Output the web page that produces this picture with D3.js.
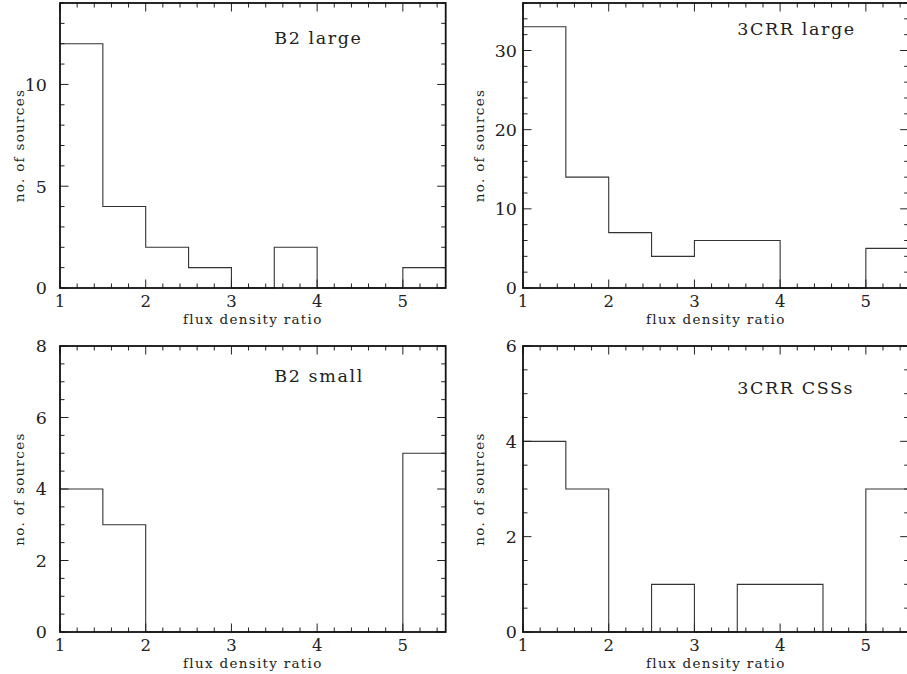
<!DOCTYPE html>
<html>
<head>
<meta charset="utf-8">
<script src="https://cdn.jsdelivr.net/npm/d3@7"></script>
<style>
  html, body { margin: 0; padding: 0; background: #fff; }
  svg { display: block; }
  text { font-family: "DejaVu Serif", serif; fill: #222; }
</style>
</head>
<body>
<svg id="chart" width="907" height="674"></svg>
<script>
// ---- data ----
const binEdges = [1, 1.5, 2, 2.5, 3, 3.5, 4, 4.5, 5, 5.5];
const xTicks = [1, 2, 3, 4, 5];

const b2LargeCounts   = [12, 4, 2, 1, 0, 2, 0, 0, 1];
const c3LargeCounts   = [33, 14, 7, 4, 6, 6, 0, 0, 5];
const b2SmallCounts   = [4, 3, 0, 0, 0, 0, 0, 0, 5];
const c3CssCounts     = [4, 3, 0, 1, 0, 1, 1, 0, 3];

const panelTitles = ["B2 large", "3CRR large", "B2 small", "3CRR CSSs"];
const yMaxes      = [14, 36, 8, 6];
const yMajorTicks = [[0, 5, 10], [0, 10, 20, 30], [0, 2, 4, 6, 8], [0, 2, 4, 6]];
const yMinorStep  = [1, 2, 0.5, 0.5];
const titlePos    = [[3.5, 12], [3.5, 32], [3.5, 7], [3.5, 5]];
const xLabel = "flux density ratio";
const yLabel = "no. of sources";

// ---- layout ----
const svg = d3.select("#chart");
const panels = [
  { counts: b2LargeCounts, x0: 60,  x1: 445.7, yTop: 3,   yBot: 288, labDx: -13, yTitleX: 24 },
  { counts: c3LargeCounts, x0: 523, x1: 908.7, yTop: 3,   yBot: 288, labDx: -6,  yTitleX: 484 },
  { counts: b2SmallCounts, x0: 60,  x1: 445.7, yTop: 346, yBot: 632, labDx: -13, yTitleX: 24 },
  { counts: c3CssCounts,   x0: 523, x1: 908.7, yTop: 346, yBot: 632, labDx: -6,  yTitleX: 484 }
];

const majorLen = 8.5, minorLen = 4.5;

panels.forEach((p, i) => {
  const x = d3.scaleLinear().domain([1, 5.5]).range([p.x0, p.x1]);
  const y = d3.scaleLinear().domain([0, yMaxes[i]]).range([p.yBot, p.yTop]);
  const g = svg.append("g");

  // histogram step line
  const pts = binEdges.slice(0, -1).map((e, k) => [e, p.counts[k]]);
  pts.push([binEdges[binEdges.length - 1], p.counts[p.counts.length - 1]]);
  const line = d3.line().x(d => x(d[0])).y(d => y(d[1])).curve(d3.curveStepAfter);
  g.append("path").attr("d", line(pts))
    .attr("fill", "none").attr("stroke", "#333").attr("stroke-width", 1.1);

  // ticks
  const xMinor = d3.range(1, 5.5001, 0.2).map(v => +v.toFixed(2));
  const yMinor = d3.range(0, yMaxes[i] + 1e-6, yMinorStep[i]).map(v => +v.toFixed(2));
  const tk = g.append("g").attr("stroke", "#222").attr("stroke-width", 1);
  xMinor.forEach(v => {
    const major = Math.abs(v - Math.round(v)) < 1e-6;
    const L = major ? majorLen : minorLen;
    tk.append("line").attr("x1", x(v)).attr("x2", x(v)).attr("y1", y(0)).attr("y2", y(0) - L);
    tk.append("line").attr("x1", x(v)).attr("x2", x(v)).attr("y1", y(yMaxes[i])).attr("y2", y(yMaxes[i]) + L);
  });
  yMinor.forEach(v => {
    const major = yMajorTicks[i].some(m => Math.abs(m - v) < 1e-6);
    const L = major ? majorLen : minorLen;
    tk.append("line").attr("x1", x(1)).attr("x2", x(1) + L).attr("y1", y(v)).attr("y2", y(v));
    tk.append("line").attr("x1", x(5.5)).attr("x2", x(5.5) - L).attr("y1", y(v)).attr("y2", y(v));
  });

  // frame
  g.append("rect")
    .attr("x", x(1)).attr("y", y(yMaxes[i]))
    .attr("width", x(5.5) - x(1)).attr("height", y(0) - y(yMaxes[i]))
    .attr("fill", "none").attr("stroke", "#111").attr("stroke-width", 1.8);

  // tick labels
  g.selectAll(".xl").data(xTicks).enter().append("text")
    .attr("x", d => x(d)).attr("y", y(0) + 19)
    .attr("text-anchor", "middle").attr("font-size", 16.5).text(d => d);
  g.selectAll(".yl").data(yMajorTicks[i]).enter().append("text")
    .attr("x", x(1) + p.labDx).attr("y", d => y(d)).attr("dy", "0.36em")
    .attr("text-anchor", "end").attr("font-size", 17.5).text(d => d);

  // axis titles
  g.append("text").attr("x", (x(1) + x(5.5)) / 2).attr("y", y(0) + 36)
    .attr("text-anchor", "middle").attr("font-size", 13.5).attr("letter-spacing", 1.3).text(xLabel);
  g.append("text")
    .attr("transform", `translate(${p.yTitleX},${(y(0) + y(yMaxes[i])) / 2}) rotate(-90)`)
    .attr("text-anchor", "middle").attr("font-size", 13.5).attr("letter-spacing", 1.3).text(yLabel);

  // panel title
  g.append("text").attr("x", x(titlePos[i][0])).attr("y", y(titlePos[i][1]))
    .attr("font-size", 17.5).attr("letter-spacing", 1.6).text(panelTitles[i]);
});
</script>
</body>
</html>
